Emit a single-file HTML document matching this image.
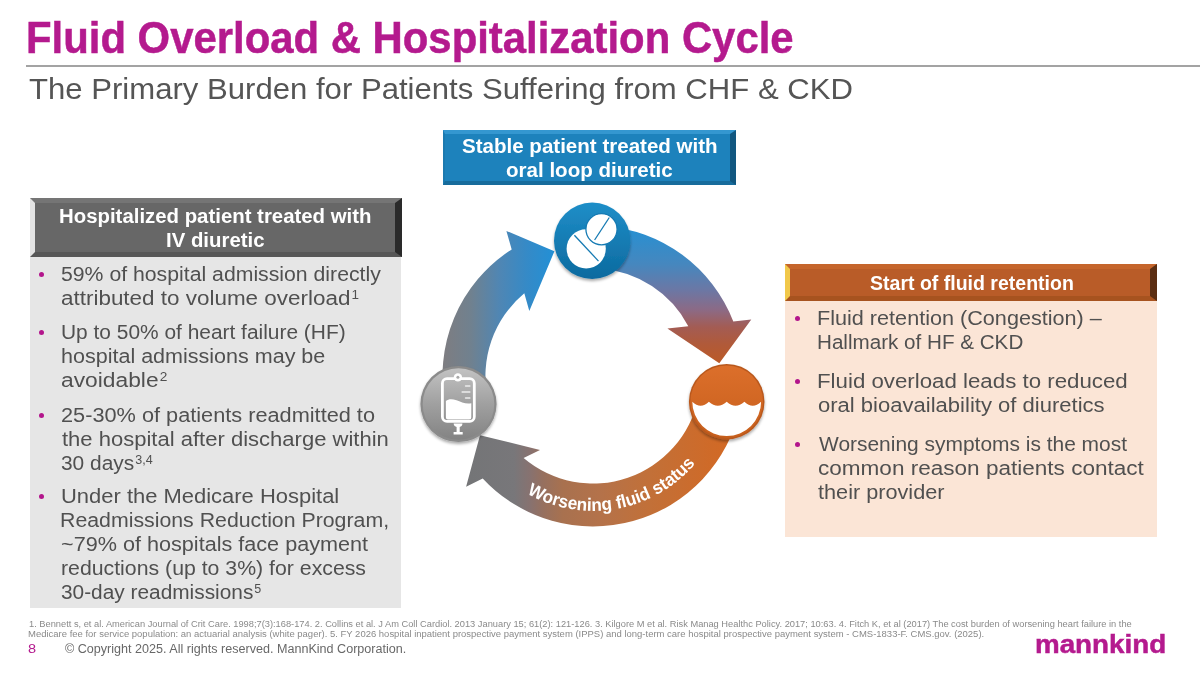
<!DOCTYPE html>
<html lang="en"><head><meta charset="utf-8"><title>Fluid Overload &amp; Hospitalization Cycle</title>
<style>
html,body{margin:0;padding:0;background:#fff}
body{width:1200px;height:675px;position:relative;overflow:hidden;font-family:"Liberation Sans",sans-serif}
.t{position:absolute;white-space:nowrap;line-height:1;transform-origin:0 0;display:block}
.t sup{font-size:60%;line-height:0;vertical-align:baseline;position:relative;top:-0.475em;margin-left:0.08em}
.ttl{font-weight:bold;color:#b41a8e;-webkit-text-stroke:0.5px #b41a8e}
.sub{color:#555}
.hd{font-weight:bold;color:#fff}
.bd{color:#505050}
.fn{color:#8a8a8a}
.pg{color:#b41a8e}
.cp{color:#686868}
.logo{font-weight:bold;color:#b41a8e;-webkit-text-stroke:0.5px #b41a8e}
h1,h2,h3,p,ul,li{margin:0;padding:0;font-size:inherit;font-weight:inherit;list-style:none}
h1.t,h2.t{font-weight:normal}
h1.ttl{font-weight:bold}
.rule{position:absolute;left:25.6px;top:65px;width:1175px;height:2px;background:#a3a3a3}
.box{position:absolute;box-sizing:border-box;border-style:solid}
.panel{position:absolute}
.hb{left:443px;top:129.5px;width:292.5px;height:55px;background:#1d82bc;border-width:4.5px 6px 4.5px 2.5px;border-color:#3497d0 #115780 #176c9c #1c7ab0}
.pg1{left:29.5px;top:257px;width:371.6px;height:350.6px;background:#e6e6e6}
.hg{left:29.5px;top:198px;width:372.3px;height:59.2px;background:#676767;border-width:5px 7px 5px 5px;border-color:#757575 #2a2a2a #575757 #e4e4e4}
.pg2{left:785.3px;top:300.5px;width:372.2px;height:236.8px;background:#fbe5d6}
.ho{left:785.3px;top:264.2px;width:372.2px;height:37px;background:#b95c28;border-width:5px 7px 5px 5.5px;border-color:#c5652c #5b2e12 #a7531f #f1c84a}
svg{position:absolute;left:0;top:0}
.dot{position:absolute;width:5.4px;height:5.4px;border-radius:50%;background:#b3158c}
</style></head>
<body>
<header><h1 id="t1" class="t ttl" style="left:25.67px;top:15.85px;font-size:44px;transform:scaleX(0.9514);">Fluid Overload &amp; Hospitalization Cycle</h1><div class="rule"></div><h2 id="t2" class="t sub" style="left:28.90px;top:74.30px;font-size:29.3px;transform:scaleX(1.0617);">The Primary Burden for Patients Suffering from CHF &amp; CKD</h2></header>
<main>
<section class="stable"><div class="box hb"></div><h3><span id="b1" class="t hd" style="left:461.50px;top:136.17px;font-size:20px;transform:scaleX(1.0271);">Stable patient treated with</span><span id="b2" class="t hd" style="left:505.88px;top:160.17px;font-size:20px;transform:scaleX(1.0271);">oral loop diuretic</span></h3></section>
<section class="hosp"><div class="panel pg1"></div><div class="box hg"></div><h3><span id="g1" class="t hd" style="left:58.82px;top:206.17px;font-size:20px;transform:scaleX(1.0188);">Hospitalized patient treated with</span><span id="g2" class="t hd" style="left:166.34px;top:230.17px;font-size:20px;transform:scaleX(1.0188);">IV diuretic</span></h3>
<ul>
<li><i class="dot" style="left:39.0px;top:272.0px"></i><span id="l1" class="t bd" style="left:61.25px;top:264.17px;font-size:20px;transform:scaleX(1.0616);">59% of hospital admission directly</span><span id="l2" class="t bd" style="left:60.73px;top:288.17px;font-size:20px;transform:scaleX(1.1219);">attributed to volume overload<sup>1</sup></span></li>
<li><i class="dot" style="left:39.0px;top:330.0px"></i><span id="l3" class="t bd" style="left:60.78px;top:322.17px;font-size:20px;transform:scaleX(1.0452);">Up to 50% of heart failure (HF)</span><span id="l4" class="t bd" style="left:60.90px;top:346.17px;font-size:20px;transform:scaleX(1.0758);">hospital admissions may be</span><span id="l5" class="t bd" style="left:61.37px;top:370.17px;font-size:20px;transform:scaleX(1.1394);">avoidable<sup>2</sup></span></li>
<li><i class="dot" style="left:39.0px;top:413.0px"></i><span id="l6" class="t bd" style="left:61.40px;top:405.17px;font-size:20px;transform:scaleX(1.0862);">25-30% of patients readmitted to</span><span id="l7" class="t bd" style="left:62.06px;top:429.17px;font-size:20px;transform:scaleX(1.1010);">the hospital after discharge within</span><span id="l8" class="t bd" style="left:61.23px;top:453.17px;font-size:20px;transform:scaleX(1.0449);">30 days<sup>3,4</sup></span></li>
<li><i class="dot" style="left:39.0px;top:494.0px"></i><span id="l9" class="t bd" style="left:60.71px;top:486.17px;font-size:20px;transform:scaleX(1.0978);">Under the Medicare Hospital</span><span id="l10" class="t bd" style="left:60.11px;top:510.17px;font-size:20px;transform:scaleX(1.0648);">Readmissions Reduction Program,</span><span id="l11" class="t bd" style="left:61.09px;top:534.17px;font-size:20px;transform:scaleX(1.0810);">~79% of hospitals face payment</span><span id="l12" class="t bd" style="left:60.71px;top:558.17px;font-size:20px;transform:scaleX(1.0635);">reductions (up to 3%) for excess</span><span id="l13" class="t bd" style="left:61.24px;top:582.17px;font-size:20px;transform:scaleX(1.0421);">30-day readmissions<sup>5</sup></span></li>
</ul></section>
<section class="cycle">
<svg width="1200" height="675" viewBox="0 0 1200 675">
<defs>
<linearGradient id="ga1" gradientUnits="userSpaceOnUse" x1="443" y1="0" x2="555" y2="0"><stop offset="0" stop-color="#7e7d81"/><stop offset="0.25" stop-color="#70818f"/><stop offset="0.5" stop-color="#5086b3"/><stop offset="0.75" stop-color="#358ac7"/><stop offset="1" stop-color="#2290d6"/></linearGradient>
<linearGradient id="ga2" gradientUnits="userSpaceOnUse" x1="0" y1="232" x2="0" y2="362"><stop offset="0" stop-color="#2a8fd0"/><stop offset="0.25" stop-color="#4687be"/><stop offset="0.45" stop-color="#6c77a4"/><stop offset="0.6" stop-color="#8c6a85"/><stop offset="0.73" stop-color="#a35c54"/><stop offset="0.86" stop-color="#b05a3a"/><stop offset="1" stop-color="#bb5a28"/></linearGradient>
<linearGradient id="ga3" gradientUnits="userSpaceOnUse" x1="735" y1="0" x2="470" y2="0"><stop offset="0" stop-color="#d36924"/><stop offset="0.087" stop-color="#cf6a28"/><stop offset="0.32" stop-color="#c27038"/><stop offset="0.51" stop-color="#b4724a"/><stop offset="0.65" stop-color="#a8714f"/><stop offset="0.725" stop-color="#96705f"/><stop offset="0.774" stop-color="#877270"/><stop offset="0.834" stop-color="#78777a"/><stop offset="1" stop-color="#747577"/></linearGradient>
<linearGradient id="gpill" x1="0" y1="0" x2="0" y2="1"><stop offset="0" stop-color="#1f8ec8"/><stop offset="1" stop-color="#0c6a9f"/></linearGradient>
<linearGradient id="gwat" x1="0" y1="0" x2="0" y2="1"><stop offset="0" stop-color="#dc6f2b"/><stop offset="1" stop-color="#c75f1c"/></linearGradient>
<linearGradient id="giv" x1="0" y1="0" x2="0" y2="1"><stop offset="0" stop-color="#c2c2c2"/><stop offset="0.5" stop-color="#a0a0a0"/><stop offset="1" stop-color="#838383"/></linearGradient>
<filter id="sh" x="-20%" y="-20%" width="140%" height="150%"><feGaussianBlur in="SourceAlpha" stdDeviation="1.6"/><feOffset dx="0" dy="2"/><feComponentTransfer><feFuncA type="linear" slope="0.35"/></feComponentTransfer><feMerge><feMergeNode/><feMergeNode in="SourceGraphic"/></feMerge></filter>
<path id="tp" d="M527.0 493.6 A134.8 134.8 0 0 0 703.4 453.3"/>
</defs>
<path d="M445.8 407.3 A150.5 150.5 0 0 1 511.7 249.4 L506.4 230.9 L554.4 251.3 L529.3 310.9 L524.3 293.3 A107.5 107.5 0 0 0 487.8 398.4 Z" fill="url(#ga1)"/>
<path d="M603.5 225.9 A150.5 150.5 0 0 1 733.3 321.4 L751.3 319.5 L719.3 363.3 L667.4 328.4 L688.3 326.2 A107.5 107.5 0 0 0 600.5 268.8 Z" fill="url(#ga2)"/>
<path d="M740.2 407.3 A150.5 150.5 0 0 1 482.7 478.4 L466.1 486.7 L480.0 435.2 L540.0 449.9 L523.6 458.1 A107.5 107.5 0 0 0 698.2 398.4 Z" fill="url(#ga3)"/>
<text font-family="'Liberation Sans',sans-serif" font-weight="bold" font-size="18" fill="#fff"><textPath href="#tp" textLength="185" lengthAdjust="spacingAndGlyphs">Worsening fluid status</textPath></text>
<!-- pill icon -->
<g filter="url(#sh)"><circle cx="592.2" cy="240.7" r="38.2" fill="url(#gpill)"/></g>
<circle cx="586.2" cy="248.8" r="19.6" fill="#fff"/>
<line x1="574.4" y1="235.2" x2="598.5" y2="261.1" stroke="#157ab3" stroke-width="1.3"/>
<circle cx="601.5" cy="229.3" r="15.6" fill="#fff" stroke="#157ab3" stroke-width="1.3"/>
<line x1="609.3" y1="217.5" x2="594.6" y2="240" stroke="#157ab3" stroke-width="1.3"/>
<!-- water icon -->
<g filter="url(#sh)"><circle cx="726.7" cy="401.7" r="37.8" fill="#b9591e"/></g><g><circle cx="726.7" cy="401.7" r="36.3" fill="url(#gwat)"/></g>
<path d="M692.3 401.7 Q700.6 409.9 708.9 401.7 Q717.8 409.9 726.7 401.7 Q735.5 409.9 744.4 401.7 Q752.8 409.9 761.1 401.7 A34.4 34.4 0 0 1 692.3 401.7 Z" fill="#fff"/>
<!-- IV icon -->
<g filter="url(#sh)"><circle cx="458.5" cy="404" r="38.1" fill="#8b8b8b"/></g>
<circle cx="458.5" cy="404" r="35.8" fill="url(#giv)"/>
<circle cx="457.9" cy="377.4" r="4.2" fill="#fff"/>
<g fill="none" stroke="#fff" stroke-width="2.8" stroke-linejoin="round">
<rect x="442.4" y="378.7" width="31.9" height="42.6" rx="4.6" ry="4.6"/>
</g>
<circle cx="457.9" cy="377.2" r="1.5" fill="#a9a9a9"/>
<path d="M445.9 400.9 C448.5 398.9 452 398.6 456.5 400.3 C461 402 466.5 404.6 471.3 403.2 L471.3 417.4 Q471.3 419.4 469.3 419.4 L447.9 419.4 Q445.9 419.4 445.9 417.4 Z" fill="#fff"/>
<g stroke="#ececec" stroke-width="1.6" stroke-linecap="round"><line x1="465.6" y1="386" x2="469.8" y2="386"/><line x1="462.2" y1="392" x2="469.8" y2="392"/><line x1="465.6" y1="398" x2="469.8" y2="398"/></g>
<path d="M453.7 423.4 L462.4 423.4 L462.4 424.2 Q462.2 426.4 459.7 426.9 L459.7 432 L462.7 432 L462.7 434.6 L453.6 434.6 L453.6 432 L456.6 432 L456.6 426.9 Q454 426.4 453.7 424.2 Z" fill="#fff"/>
</svg></section>
<section class="retention"><div class="panel pg2"></div><div class="box ho"></div><h3><span id="o1" class="t hd" style="left:869.97px;top:273.17px;font-size:20px;transform:scaleX(0.9760);">Start of fluid retention</span></h3>
<ul>
<li><i class="dot" style="left:795.0px;top:315.9px"></i><span id="r1" class="t bd" style="left:816.63px;top:308.17px;font-size:20px;transform:scaleX(1.0811);">Fluid retention (Congestion) –</span><span id="r2" class="t bd" style="left:816.72px;top:332.17px;font-size:20px;transform:scaleX(1.0312);">Hallmark of HF &amp; CKD</span></li>
<li><i class="dot" style="left:795.0px;top:378.9px"></i><span id="r3" class="t bd" style="left:816.57px;top:371.17px;font-size:20px;transform:scaleX(1.1133);">Fluid overload leads to reduced</span><span id="r4" class="t bd" style="left:818.09px;top:395.17px;font-size:20px;transform:scaleX(1.1017);">oral bioavailability of diuretics</span></li>
<li><i class="dot" style="left:795.0px;top:441.9px"></i><span id="r5" class="t bd" style="left:818.70px;top:434.17px;font-size:20px;transform:scaleX(1.0470);">Worsening symptoms is the most</span><span id="r6" class="t bd" style="left:818.09px;top:458.17px;font-size:20px;transform:scaleX(1.1273);">common reason patients contact</span><span id="r7" class="t bd" style="left:818.43px;top:482.17px;font-size:20px;transform:scaleX(1.0836);">their provider</span></li>
</ul></section>
</main>
<footer><p><span id="f1" class="t fn" style="left:29.00px;top:620.07px;font-size:8.3px;transform:scaleX(1.1187);">1. Bennett s, et al. American Journal of Crit Care. 1998;7(3):168-174. 2. Collins et al. J Am Coll Cardiol. 2013 January 15; 61(2): 121-126. 3. Kilgore M et al. Risk Manag Healthc Policy. 2017; 10:63. 4. Fitch K, et al (2017) The cost burden of worsening heart failure in the</span><span id="f2" class="t fn" style="left:28.43px;top:630.07px;font-size:8.3px;transform:scaleX(1.1428);">Medicare fee for service population: an actuarial analysis (white pager). 5. FY 2026 hospital inpatient prospective payment system (IPPS) and long-term care hospital prospective payment system - CMS-1833-F. CMS.gov. (2025).</span></p><p><span id="c0" class="t pg" style="left:28.31px;top:642.94px;font-size:12px;transform:scaleX(1.2097);">8</span><span id="c1" class="t cp" style="left:64.74px;top:642.94px;font-size:12px;transform:scaleX(1.0480);">© Copyright 2025. All rights reserved. MannKind Corporation.</span></p><div id="lg" class="t logo" style="left:1034.97px;top:630.67px;font-size:26.5px;transform:scaleX(1.0476);">mannkind</div></footer>
</body></html>
